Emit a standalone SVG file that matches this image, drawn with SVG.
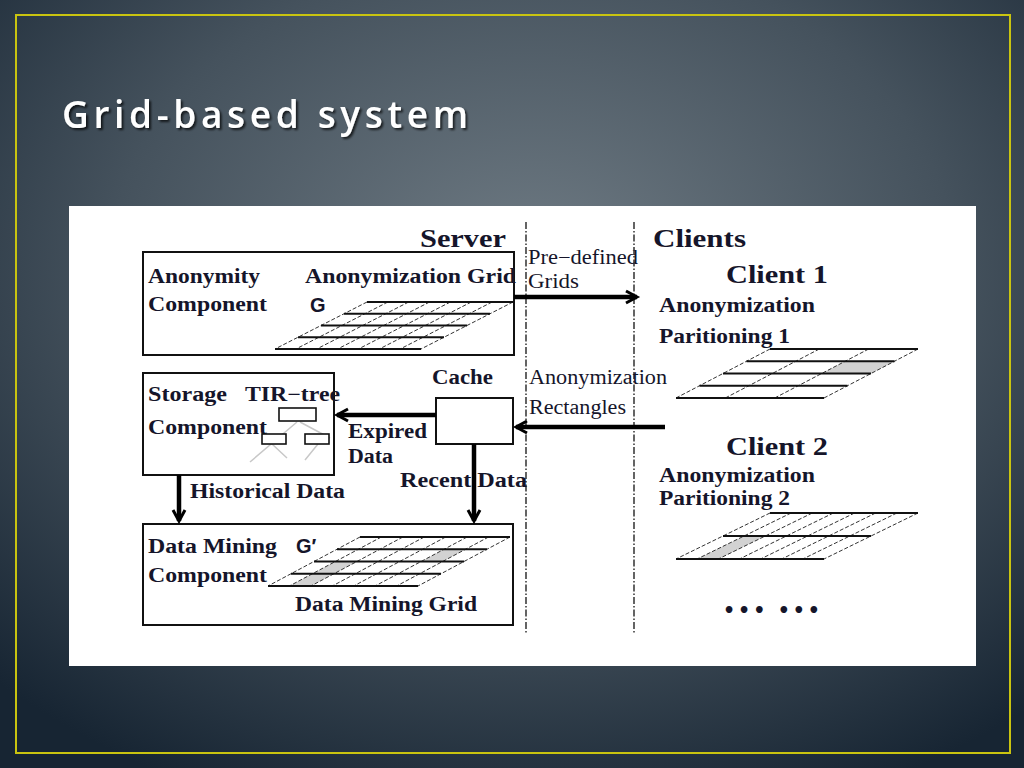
<svg xmlns="http://www.w3.org/2000/svg" width="1024" height="768" viewBox="0 0 1024 768">
<defs>
<radialGradient id="bg" cx="52%" cy="35%" r="75%">
<stop offset="0" stop-color="#6f7b84"/>
<stop offset="0.55" stop-color="#45525d"/>
<stop offset="1" stop-color="#172533"/>
</radialGradient>
<filter id="sh" x="-5%" y="-20%" width="110%" height="150%">
<feDropShadow dx="2" dy="2" stdDeviation="1.2" flood-color="#000" flood-opacity="0.7"/>
</filter>
<marker id="ah" markerUnits="userSpaceOnUse" markerWidth="16" markerHeight="16" refX="12" refY="7" orient="auto" overflow="visible">
<path d="M1,1 L12,7 L1,13" fill="none" stroke="#000" stroke-width="3"/>
</marker>
<style>
.t{font-family:"Liberation Serif",serif;font-weight:bold;font-size:20px;fill:#15152a}
.n{font-weight:normal}
.h{font-size:26px}
.s{font-family:"Liberation Sans",sans-serif}
.box{fill:#fff;stroke:#111;stroke-width:2}
.hl{stroke:#111;stroke-width:1.8;fill:none}
.dg{stroke:#333;stroke-width:1;stroke-dasharray:4 2;fill:none}
.sep{stroke:#111;stroke-width:1.3;stroke-dasharray:7 2 1.5 2}
.arr{stroke:#000;stroke-width:4.5;fill:none}
.shade{fill:#d2d2d2}
.tree{stroke:#c8c8c8;stroke-width:1.5;fill:none}
</style>
</defs>
<rect x="0" y="0" width="1024" height="768" fill="url(#bg)"/>
<rect x="16" y="15" width="994" height="738" fill="none" stroke="#c9c410" stroke-width="2"/>
<text x="62" y="128" font-family="'Open Sans', Lato, sans-serif" font-weight="600" font-size="37" fill="#fff" textLength="406" lengthAdjust="spacing" filter="url(#sh)">Grid-based system</text>
<rect x="69" y="206" width="907" height="460" fill="#fff"/>

<g id="separators">
<line class="sep" x1="526" y1="222" x2="526" y2="634"/>
<line class="sep" x1="634" y1="222" x2="634" y2="634"/>
</g>

<g id="headings">
<text class="t h" x="420" y="247" textLength="86" lengthAdjust="spacingAndGlyphs">Server</text>
<text class="t h" x="653" y="247" textLength="93" lengthAdjust="spacingAndGlyphs">Clients</text>
</g>

<g id="anonymity">
<rect class="box" x="143" y="252" width="371" height="103"/>
<text class="t" x="148" y="283" textLength="112" lengthAdjust="spacingAndGlyphs">Anonymity</text>
<text class="t" x="148" y="311" textLength="119" lengthAdjust="spacingAndGlyphs">Component</text>
<text class="t" x="305" y="283" textLength="211" lengthAdjust="spacingAndGlyphs">Anonymization Grid</text>
<text class="t s" x="310" y="312">G</text>
<path class="dg" d="M367,302 L275,349 M387.9,302 L295.9,349 M408.7,302 L316.7,349 M429.6,302 L337.6,349 M450.4,302 L358.4,349 M471.3,302 L379.3,349 M492.1,302 L400.1,349 M513,302 L421,349"/>
<path class="hl" d="M367,302 H513 M344,313.75 H490 M321,325.5 H467 M298,337.25 H444 M275,349 H421"/>
</g>

<g id="cache">
<text class="t" x="432" y="384" textLength="61" lengthAdjust="spacingAndGlyphs">Cache</text>
<rect class="box" x="436" y="398" width="77" height="46"/>
</g>

<g id="storage">
<rect class="box" x="143" y="373" width="191" height="102"/>
<text class="t" x="148" y="401" textLength="79" lengthAdjust="spacingAndGlyphs">Storage</text>
<text class="t" x="245" y="401" textLength="95" lengthAdjust="spacingAndGlyphs">TIR−tree</text>
<text class="t" x="148" y="434" textLength="119" lengthAdjust="spacingAndGlyphs">Component</text>
<path class="tree" d="M297,422 L250,462 M300,422 L330,438 M272,444 L287,458 M318,444 L305,460"/>
<rect x="279" y="408" width="37" height="13" fill="#fff" stroke="#111" stroke-width="1.6"/>
<rect x="262" y="434" width="24" height="10" fill="#fff" stroke="#111" stroke-width="1.6"/>
<rect x="305" y="434" width="24" height="10" fill="#fff" stroke="#111" stroke-width="1.6"/>
</g>

<g id="datamining">
<rect class="box" x="143" y="524" width="370" height="101"/>
<text class="t" x="148" y="553" textLength="129" lengthAdjust="spacingAndGlyphs">Data Mining</text>
<text class="t" x="148" y="582" textLength="119" lengthAdjust="spacingAndGlyphs">Component</text>
<text class="t s" x="296" y="553">G′</text>
<text class="t" x="295" y="611" textLength="182" lengthAdjust="spacingAndGlyphs">Data Mining Grid</text>
<polygon class="shade" points="335.4,561.5 356.9,561.5 333.9,573.75 312.4,573.75"/>
<polygon class="shade" points="312.4,573.75 333.9,573.75 310.9,586 289.4,586"/>
<polygon class="shade" points="444.1,549.25 465.6,549.25 442.6,561.5 421.1,561.5"/>
<path class="dg" d="M360,537 L268,586 M381.4,537 L289.4,586 M402.9,537 L310.9,586 M424.3,537 L332.3,586 M445.7,537 L353.7,586 M467.1,537 L375.1,586 M488.6,537 L396.6,586 M510,537 L418,586"/>
<path class="hl" d="M360,537 H510 M337,549.25 H487 M314,561.5 H464 M291,573.75 H441 M268,586 H418"/>
</g>

<g id="client1">
<text class="t h" x="726" y="283" textLength="102" lengthAdjust="spacingAndGlyphs">Client 1</text>
<text class="t" x="659" y="312" textLength="156" lengthAdjust="spacingAndGlyphs">Anonymization</text>
<text class="t" x="659" y="343" textLength="131" lengthAdjust="spacingAndGlyphs">Paritioning 1</text>
<polygon class="shade" points="845.2,361.25 894.5,361.25 871,373.5 821.7,373.5"/>
<path class="dg" d="M770,349 L676,398 M819.3,349 L725.3,398 M868.7,349 L774.7,398 M918,349 L824,398"/>
<path class="hl" d="M770,349 H918 M746.5,361.25 H894.5 M723,373.5 H871 M699.5,385.75 H847.5 M676,398 H824"/>
</g>

<g id="client2">
<text class="t h" x="726" y="455" textLength="102" lengthAdjust="spacingAndGlyphs">Client 2</text>
<text class="t" x="659" y="482" textLength="156" lengthAdjust="spacingAndGlyphs">Anonymization</text>
<text class="t" x="659" y="505" textLength="131" lengthAdjust="spacingAndGlyphs">Paritioning 2</text>
<polygon class="shade" points="744.1,536 765.3,536 718.3,559 697.1,559"/>
<path class="dg" d="M770,513 L676,559 M791.1,513 L697.1,559 M812.3,513 L718.3,559 M833.4,513 L739.4,559 M854.6,513 L760.6,559 M875.7,513 L781.7,559 M896.9,513 L802.9,559 M918,513 L824,559"/>
<path class="hl" d="M770,513 H918 M723,536 H871 M676,559 H824"/>
<text x="723" y="617" font-family="'DejaVu Sans', sans-serif" font-weight="bold" font-size="19" fill="#15152a" textLength="97" lengthAdjust="spacing">•••  •••</text>
</g>

<g id="connectors">
<line class="arr" x1="514" y1="297" x2="637" y2="297" marker-end="url(#ah)"/>
<line class="arr" x1="665" y1="427" x2="516" y2="427" marker-end="url(#ah)"/>
<line class="arr" x1="436" y1="415" x2="337" y2="415" marker-end="url(#ah)"/>
<line class="arr" x1="474" y1="444" x2="474" y2="521" marker-end="url(#ah)"/>
<line class="arr" x1="179" y1="475" x2="179" y2="521" marker-end="url(#ah)"/>
</g>

<g id="connector-labels">
<text class="t n" x="528" y="264" textLength="110" lengthAdjust="spacingAndGlyphs">Pre−defined</text>
<text class="t n" x="528" y="288" textLength="51" lengthAdjust="spacingAndGlyphs">Grids</text>
<text class="t n" x="529" y="384" textLength="138" lengthAdjust="spacingAndGlyphs">Anonymization</text>
<text class="t n" x="529" y="414" textLength="97" lengthAdjust="spacingAndGlyphs">Rectangles</text>
<text class="t" x="348" y="438" textLength="79" lengthAdjust="spacingAndGlyphs">Expired</text>
<text class="t" x="348" y="463" textLength="45" lengthAdjust="spacingAndGlyphs">Data</text>
<text class="t" x="400" y="487" textLength="127" lengthAdjust="spacingAndGlyphs">Recent Data</text>
<text class="t" x="190" y="498" textLength="155" lengthAdjust="spacingAndGlyphs">Historical Data</text>
</g>
</svg>
